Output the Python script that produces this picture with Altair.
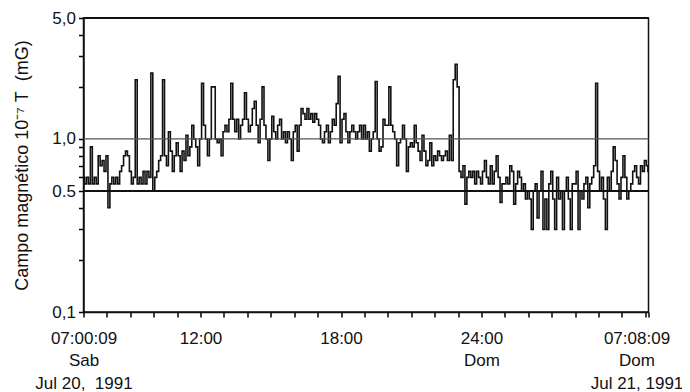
import json
import altair as alt
import pandas as pd

# ---- data (mG), one value every 5 minutes starting Sat Jul 20 1991 07:00:09 ----
STEP_MIN = 5
START_OFFSET_MIN = 0.15          # 07:00:09 expressed in minutes after 07:00:00
END_MIN = 1448.15                # Sun Jul 21 1991 07:08:09

h07 = [0.6, 0.55, 0.6, 0.55, 0.9, 0.55, 0.6, 0.55, 0.8, 0.7, 0.75, 0.65]
h08 = [0.8, 0.4, 0.55, 0.6, 0.55, 0.6, 0.55, 0.65, 0.7, 0.8, 0.85, 0.8]
h09 = [0.65, 0.55, 0.6, 2.2, 0.55, 0.6, 0.55, 0.65, 0.55, 0.65, 0.6, 2.4]
h10 = [0.5, 0.6, 0.65, 0.75, 0.8, 2.2, 0.8, 0.7, 1.1, 0.85, 0.65, 0.8]
h11 = [0.95, 0.8, 0.65, 0.85, 0.75, 1.05, 0.8, 0.9, 1.2, 1.0, 0.9, 0.7]
h12 = [1.0, 2.1, 1.2, 1.0, 0.8, 1.0, 2.0, 2.0, 1.0, 0.95, 1.0, 0.8]
h13 = [1.1, 1.2, 1.1, 1.3, 2.1, 1.3, 1.1, 1.3, 1.0, 1.2, 1.3, 1.85]
h14 = [1.3, 1.1, 1.2, 1.5, 1.65, 1.2, 0.95, 1.3, 2.0, 1.2, 1.0, 0.75]
h15 = [1.0, 1.35, 1.1, 1.0, 1.2, 1.3, 1.0, 1.1, 0.95, 1.1, 1.0, 0.75]
h16 = [1.1, 1.2, 0.85, 1.2, 1.5, 1.4, 1.3, 1.5, 1.3, 1.4, 1.25, 1.4]
h17 = [1.3, 1.2, 1.0, 0.95, 1.1, 1.2, 0.95, 1.1, 1.3, 1.2, 1.6, 2.3]
h18 = [0.95, 1.3, 1.4, 1.1, 0.95, 1.1, 1.2, 1.1, 1.0, 1.1, 1.2, 1.0]
h19 = [1.2, 1.0, 1.1, 0.85, 1.0, 1.1, 2.15, 1.0, 0.85, 0.9, 1.3, 1.2]
h20 = [1.2, 2.0, 1.2, 1.1, 1.0, 0.7, 0.95, 1.0, 1.2, 1.0, 0.65, 0.9]
h21 = [0.95, 0.9, 1.2, 0.95, 0.85, 0.75, 1.05, 0.85, 0.7, 0.75, 0.95, 0.7]
h22 = [0.8, 0.75, 0.85, 0.8, 0.75, 0.8, 0.85, 0.75, 1.05, 0.75, 2.2, 2.7]
h23 = [2.0, 0.65, 0.6, 0.7, 0.42, 0.6, 0.65, 0.6, 0.65, 0.55, 0.65, 0.6]
h00 = [0.55, 0.65, 0.75, 0.6, 0.55, 0.7, 0.55, 0.65, 0.8, 0.6, 0.43, 0.55]
h01 = [0.55, 0.6, 0.55, 0.7, 0.65, 0.42, 0.55, 0.65, 0.6, 0.5, 0.55, 0.45]
h02 = [0.5, 0.45, 0.3, 0.5, 0.55, 0.35, 0.5, 0.65, 0.3, 0.45, 0.3, 0.55]
h03 = [0.65, 0.45, 0.3, 0.6, 0.45, 0.5, 0.3, 0.5, 0.6, 0.45, 0.3, 0.55]
h04 = [0.55, 0.65, 0.3, 0.5, 0.45, 0.55, 0.6, 0.4, 0.55, 0.6, 0.7, 2.1]
h05 = [0.65, 0.5, 0.6, 0.45, 0.3, 0.6, 0.5, 0.65, 0.9, 0.75, 0.55, 0.45]
h06 = [0.6, 0.8, 0.6, 0.45, 0.5, 0.55, 0.65, 0.7, 0.6, 0.55, 0.7, 0.65]
tail = [0.75, 0.7]
end_value = 0.65

hours = [h07, h08, h09, h10, h11, h12, h13, h14, h15, h16, h17, h18,
         h19, h20, h21, h22, h23, h00, h01, h02, h03, h04, h05, h06]

# reference lines
heavy_lines = [0.5, 5.0]
light_lines = [1.0]

# axis ticks and labels
x_tick_hours = list(range(0, 25))          # hourly ticks 07:00 ... 07:00
x_label_minutes = [0, 300, 660, 1020, 1448]
x_row1 = ["07:00:09", "12:00", "18:00", "24:00", "07:08:09"]
x_row2 = ["Sab", "", "", "Dom", "Dom"]
x_row3 = ["Jul 20,\u00a0\u00a01991", "", "", "", "Jul 21, 1991"]

y_ticks = [0.1, 0.2, 0.3, 0.4, 0.5, 0.6, 0.7, 0.8, 0.9, 1, 2, 3, 4, 5]
y_label_values = [0.1, 0.5, 1, 5]
y_label_text = ["0,1", "0.5", "1,0", "5,0"]

y_title = "Campo magnético\u00a010\u207b\u2077\u00a0T\u00a0\u00a0(mG)"

# ---- build table ----
values = [v for h in hours for v in h] + tail
minutes = [START_OFFSET_MIN + STEP_MIN * i for i in range(len(values))] + [END_MIN]
values = values + [end_value]
df = pd.DataFrame({"t": minutes, "campo": values})

x_ticks = [60 * h for h in x_tick_hours] + [END_MIN]

NB = "\u00a0"

x_expr = ""
for m, a, b, c in zip(x_label_minutes, x_row1, x_row2, x_row3):
    arr = [a or NB, b or NB, c or NB]
    x_expr += f"round(datum.value) == {m} ? {json.dumps(arr, ensure_ascii=False)} : "
x_expr += "''"

y_expr = ""
for v, s in zip(y_label_values, y_label_text):
    y_expr += f"abs(datum.value - {v}) < 1e-6 ? '{s}' : "
y_expr += "''"

FONT = "Liberation Sans, Arial, sans-serif"
INK = "#111111"

x_axis = alt.Axis(
    values=x_ticks, labelExpr=x_expr, title=None, grid=False, ticks=True,
    tickSize=5, tickColor="#000000", tickWidth=1.5, domainColor=INK, domainWidth=1.5,
    labelPadding=13, labelLineHeight=22.5, labelOverlap=False, labelFlush=False,
    labelFont=FONT, labelFontSize=17, labelColor=INK, labelAlign="center",
    labelOffset={"condition": {"test": "datum.value > 1445", "value": -12}, "value": 0},
)
y_axis = alt.Axis(
    values=y_ticks, labelExpr=y_expr, title=y_title, grid=False, ticks=True,
    tickSize=5, tickColor="#000000", tickWidth=1.5, domainColor=INK, domainWidth=1.5,
    labelPadding=3, labelOverlap=False, labelFont=FONT, labelFontSize=17,
    labelColor=INK, titleFont=FONT, titleFontSize=18, titleFontWeight="normal",
    titleColor=INK, titleX=-61, titleBaseline="middle",
)

x_scale = alt.Scale(domain=[0, END_MIN], nice=False, zero=False)
y_scale = alt.Scale(type="log", domain=[0.1, 5], nice=False)

line = alt.Chart(df).mark_line(color=INK, strokeWidth=1.6, interpolate="step").encode(
    x=alt.X("t:Q", scale=x_scale, axis=x_axis),
    y=alt.Y("campo:Q", scale=y_scale, axis=y_axis),
)
heavy = alt.Chart(pd.DataFrame({"campo": heavy_lines})).mark_rule(
    color=INK, strokeWidth=2).encode(y=alt.Y("campo:Q"))
light = alt.Chart(pd.DataFrame({"campo": light_lines})).mark_rule(
    color="#555555", strokeWidth=1.3).encode(y=alt.Y("campo:Q"))

chart = alt.layer(line, heavy, light).properties(
    width=565, height=294,
    autosize=alt.AutoSizeParams(type="none"),
    padding={"left": 75.5, "top": 10, "right": 33.5, "bottom": 80},
    background="white",
).configure_view(stroke=INK, strokeWidth=1.5)

chart.save("out.html", embed_options={"renderer": "svg", "actions": False})
